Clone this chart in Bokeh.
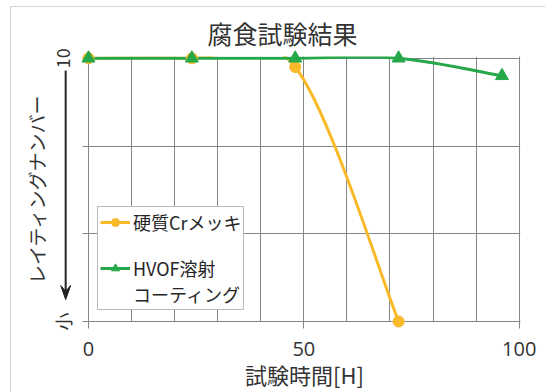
from bokeh.plotting import figure
from bokeh.models import Range1d, FixedTicker, Legend, LegendItem, ColumnDataSource
from bokeh.embed import file_html
from bokeh.resources import INLINE

# corrosion test results: rating number vs. test time [H]
cr_hours = [0, 24, 48, 72]
cr_rating = [10, 10, 9.9, 7]
hvof_hours = [0, 24, 48, 72, 96]
hvof_rating = [10, 10, 10, 10, 9.8]

x_ticks = [0, 50, 100]
x_grid = [0, 10, 20, 30, 40, 50, 60, 70, 80, 90, 100]
y_ticks = [7, 8, 9, 10]
y_tick_labels = {7: "小", 8: "", 9: "", 10: "10"}

JP = "Noto Sans CJK JP"
ORANGE = "#f9b928"
GREEN = "#26a74a"
GRID = "#858585"
TEXT = "#333333"
ARROW = "#222222"


def smooth_source(xs, ys):
    """Cubic Bezier segments with Catmull-Rom control points (smoothed line)."""
    n = len(xs)
    d = dict(x0=[], y0=[], x1=[], y1=[], cx0=[], cy0=[], cx1=[], cy1=[])
    for i in range(n - 1):
        xp, yp = (xs[i - 1], ys[i - 1]) if i > 0 else (xs[i], ys[i])
        xn, yn = (xs[i + 2], ys[i + 2]) if i + 2 < n else (xs[i + 1], ys[i + 1])
        d["x0"].append(xs[i]); d["y0"].append(ys[i])
        d["x1"].append(xs[i + 1]); d["y1"].append(ys[i + 1])
        d["cx0"].append(xs[i] + (xs[i + 1] - xp) / 6)
        d["cy0"].append(ys[i] + (ys[i + 1] - yp) / 6)
        d["cx1"].append(xs[i + 1] - (xn - xs[i]) / 6)
        d["cy1"].append(ys[i + 1] - (yn - ys[i]) / 6)
    return ColumnDataSource(d)


p = figure(width=545, height=392, output_backend="svg", toolbar_location=None,
           x_range=Range1d(0, 100.3), y_range=Range1d(7, 10.02),
           min_border_left=88, min_border_right=25,
           min_border_top=56, min_border_bottom=69)

p.border_fill_color = None
p.background_fill_color = "white"
p.outline_line_color = None
p.styles = {
    "background": "linear-gradient(#d4d4d4, #d4d4d4) 10px 6px / 1px 100% no-repeat, "
                  "linear-gradient(#d4d4d4, #d4d4d4) 10px 6px / 100% 1px no-repeat, #ffffff"
}

# title
p.title.text = "腐食試験結果"
p.title.align = "left"
p.title.offset = 119
p.title.standoff = 12
p.title.text_font = JP
p.title.text_font_size = "25px"
p.title.text_font_style = "normal"
p.title.text_color = TEXT

# x axis
xa = p.xaxis[0]
xa.ticker = FixedTicker(ticks=x_ticks, minor_ticks=x_grid)
xa.axis_label = "試験時間[H]"
xa.axis_label_text_font = JP
xa.axis_label_text_font_size = "22px"
xa.axis_label_text_font_style = "normal"
xa.axis_label_text_color = TEXT
xa.axis_label_standoff = -1
xa.major_label_text_font = "Open Sans"
xa.major_label_text_font_size = "20px"
xa.major_label_text_color = TEXT
xa.major_label_standoff = 13
xa.axis_line_color = GRID
xa.major_tick_line_color = GRID
xa.major_tick_out = 7
xa.major_tick_in = 0
xa.minor_tick_out = 0
xa.minor_tick_in = 0

# y axis
ya = p.yaxis[0]
ya.ticker = FixedTicker(ticks=y_ticks)
ya.major_label_overrides = y_tick_labels
ya.major_label_orientation = "vertical"
ya.major_label_text_font = JP
ya.major_label_text_font_size = "18px"
ya.major_label_text_color = TEXT
ya.major_label_standoff = 7
ya.axis_label = "レイティングナンバー"
ya.axis_label_text_font = JP
ya.axis_label_text_font_size = "19px"
ya.axis_label_text_font_style = "normal"
ya.axis_label_text_color = TEXT
ya.axis_label_standoff = -3
ya.axis_line_color = GRID
ya.major_tick_line_color = GRID
ya.major_tick_out = 6
ya.major_tick_in = 0
ya.minor_tick_out = 0
ya.minor_tick_in = 0

# grid
p.xgrid.grid_line_color = GRID
p.xgrid.minor_grid_line_color = GRID
p.ygrid.grid_line_color = GRID

# downward arrow beside the y axis (rating decreases toward the bottom)
arrow_x = -5.3
arrow_top = y_ticks[-1] - 0.14
arrow_tip = y_ticks[0] + 0.25
head_half_w = 1.15
head_len = 0.16
p.segment(x0=[arrow_x], y0=[arrow_top], x1=[arrow_x], y1=[arrow_tip + head_len / 2],
          line_color=ARROW, line_width=2, level="overlay")
p.patch(x=[arrow_x - head_half_w, arrow_x, arrow_x + head_half_w, arrow_x],
        y=[arrow_tip + head_len, arrow_tip, arrow_tip + head_len, arrow_tip + head_len * 0.6],
        fill_color=ARROW, line_color=ARROW, line_width=1, level="overlay")

# series: smoothed lines + markers
cr_line = p.bezier(x0="x0", y0="y0", x1="x1", y1="y1", cx0="cx0", cy0="cy0",
                   cx1="cx1", cy1="cy1", source=smooth_source(cr_hours, cr_rating),
                   line_color=ORANGE, line_width=3)
cr_pts = p.scatter(cr_hours, cr_rating, marker="circle", size=11,
                   fill_color=ORANGE, line_color=ORANGE, level="overlay")
hv_line = p.bezier(x0="x0", y0="y0", x1="x1", y1="y1", cx0="cx0", cy0="cy0",
                   cx1="cx1", cy1="cy1", source=smooth_source(hvof_hours, hvof_rating),
                   line_color=GREEN, line_width=3)
hv_pts = p.scatter(hvof_hours, hvof_rating, marker="triangle", size=13,
                   fill_color=GREEN, line_color=GREEN, level="overlay")
blank = p.scatter([], [], marker="circle", size=1, alpha=0)

legend = Legend(items=[
    LegendItem(label="硬質Crメッキ", renderers=[cr_line, cr_pts]),
    LegendItem(label=" ", renderers=[blank]),
    LegendItem(label="HVOF溶射", renderers=[hv_line, hv_pts]),
    LegendItem(label="コーティング", renderers=[blank]),
], location=(9, 11))
legend.label_text_font = JP
legend.label_text_font_size = "18px"
legend.label_text_color = "#262626"
legend.label_height = 20
legend.glyph_height = 20
legend.glyph_width = 30
legend.label_standoff = 3
legend.spacing = 0
legend.padding = 2
legend.margin = 0
legend.border_line_color = "#7a7a7a"
legend.border_line_width = 1
legend.background_fill_color = "white"
legend.background_fill_alpha = 1
p.add_layout(legend)

open("out.html", "w").write(file_html(p, INLINE))
